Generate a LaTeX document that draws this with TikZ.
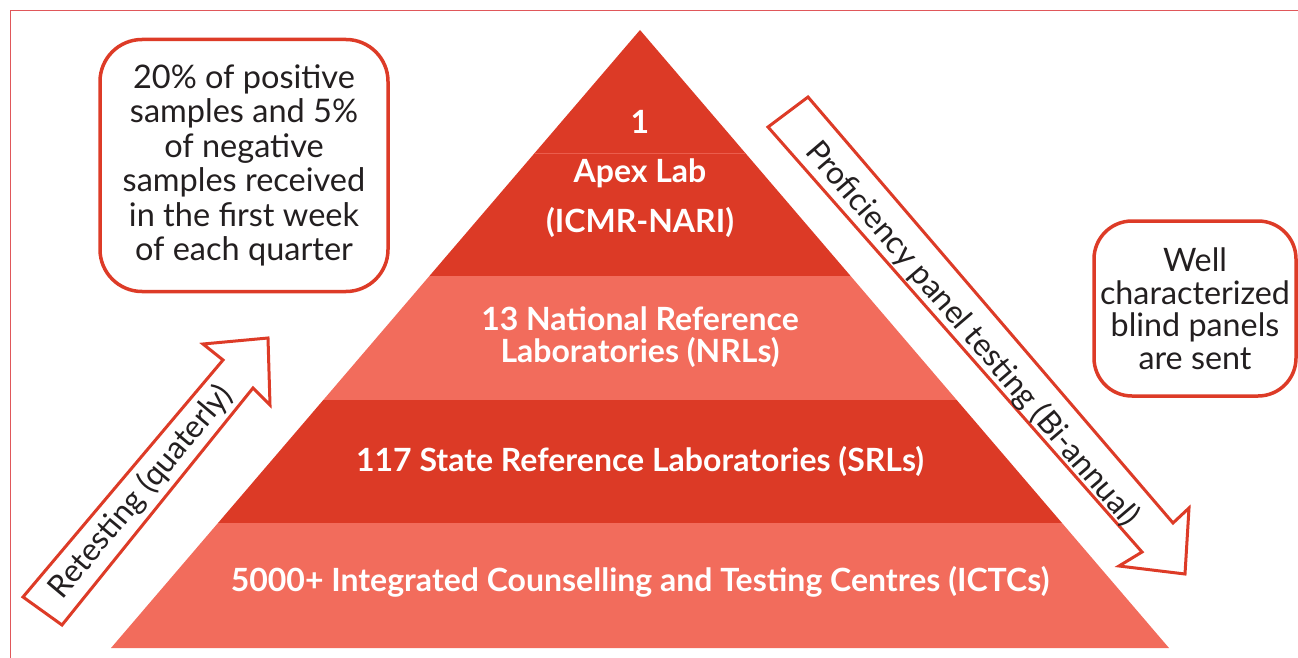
\documentclass[tikz,border=0pt]{standalone}
\usepackage{fontspec}
\setmainfont{Lato}
\definecolor{pyrdark}{HTML}{DC3A26}
\definecolor{pyrlight}{HTML}{F26C5C}
\definecolor{edgered}{HTML}{DD3B27}
\definecolor{txtdark}{HTML}{231F20}
\definecolor{framered}{HTML}{E0575A}
\tikzset{
  pyrtext/.style={text=white,font=\bfseries\fontsize{32}{31.5}\selectfont,align=center,inner sep=0pt},
  infobox/.style={draw=edgered,line width=3.5pt,rounded corners=42pt,fill=white,text=txtdark,align=center,inner sep=0pt},
  blockarrow/.style={draw=edgered,line width=3pt,fill=white,line join=miter},
  arrowtext/.style={text=txtdark,font=\fontsize{31.5}{33}\selectfont,inner sep=0pt}
}
\begin{document}
\begin{tikzpicture}[x=1pt,y=-1pt]
\useasboundingbox (0,0) rectangle (1298,658);
% frame
\draw[framered,line width=1pt] (10,658) -- (10,11) -- (1298,11);
% pyramid
\fill[pyrdark] (640,30) -- (850.6,276) -- (429.4,276) -- cycle;
\fill[pyrlight] (429.4,276) -- (850.6,276) -- (956.7,400) -- (323.3,400) -- cycle;
\fill[pyrdark] (323.3,400) -- (956.7,400) -- (1062,523) -- (218,523) -- cycle;
\fill[pyrlight] (218,523) -- (1062,523) -- (1169,648) -- (111,648) -- cycle;
\draw[pyrlight!70!pyrdark,line width=1pt] (534.7,153) -- (745.3,153);
% pyramid texts
\node[pyrtext] (one) at (640,122) {1};
\node[pyrtext] (apex) at (640,173) {Apex Lab};
\node[pyrtext] (icmr) at (640,222) {(ICMR-NARI)};
\node[pyrtext] (nrl) at (640,337) {13 National Reference\\Laboratories (NRLs)};
\node[pyrtext] (srl) at (640,461) {117 State Reference Laboratories (SRLs)};
\node[pyrtext] (ictc) at (640,582) {5000+ Integrated Counselling and Testing Centres (ICTCs)};
% left info box
\node[infobox,minimum width=288pt,minimum height=252pt,font=\fontsize{32.5}{34.5}\selectfont] (lbox) at (244,165.5)
  {20\% of positive\\samples and 5\%\\of negative\\samples received\\in the first week\\of each quarter};
% right info box
\node[infobox,minimum width=202pt,minimum height=175pt,rounded corners=38pt,font=\fontsize{32.3}{32.5}\selectfont] (rbox) at (1195,308.5)
  {Well\\characterized\\blind panels\\are sent};
% left block arrow (retesting)
\draw[blockarrow] (23,597) -- (223,360) -- (203,344) -- (268,338) -- (270,405) -- (253,388) -- (62,625) -- cycle;
\node[arrowtext,rotate=50] (retest) at (141,492) {Retesting (quaterly)};
% right block arrow (proficiency)
\draw[blockarrow] (808,97) -- (1173,523) -- (1189,508) -- (1185,574) -- (1119,566) -- (1142,552) -- (768,127) -- cycle;
\node[arrowtext,rotate=-49.5] (prof) at (972,334) {Proficiency panel testing (Bi-annual)};
\end{tikzpicture}
\end{document}
